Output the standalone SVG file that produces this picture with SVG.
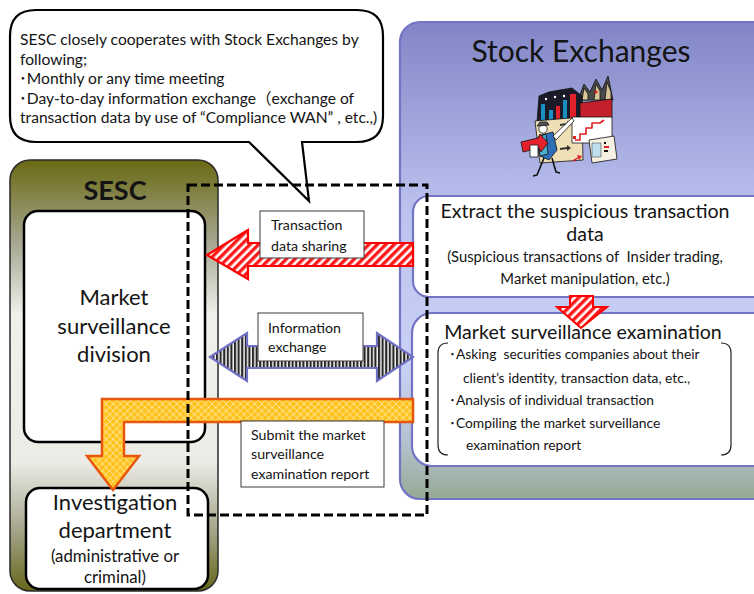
<svg xmlns="http://www.w3.org/2000/svg" width="754" height="594" viewBox="0 0 754 594">
  <defs>
    <linearGradient id="gradSE" x1="0" y1="0" x2="0" y2="1">
      <stop offset="0" stop-color="#8185c6"/>
      <stop offset="0.4" stop-color="#bcc3ef"/>
      <stop offset="0.72" stop-color="#c8d1f5"/>
      <stop offset="0.88" stop-color="#b3c2d0"/>
      <stop offset="1" stop-color="#96aa94"/>
    </linearGradient>
    <linearGradient id="gradSESC" x1="0" y1="0" x2="0" y2="1">
      <stop offset="0" stop-color="#6a6914"/>
      <stop offset="0.2" stop-color="#a9a996"/>
      <stop offset="0.36" stop-color="#f1f1ec"/>
      <stop offset="0.7" stop-color="#ececE6"/>
      <stop offset="0.85" stop-color="#a9a992"/>
      <stop offset="1" stop-color="#66661a"/>
    </linearGradient>
    <pattern id="redStripes" width="6" height="6" patternUnits="userSpaceOnUse" patternTransform="rotate(45)">
      <rect width="6" height="6" fill="#ffffff"/>
      <rect width="3.4" height="6" fill="#ff1a1a"/>
    </pattern>
    <pattern id="darkStripes" width="3.6" height="4" patternUnits="userSpaceOnUse">
      <rect width="3.6" height="4" fill="#f4f4f4"/>
      <rect width="2.1" height="4" fill="#262626"/>
    </pattern>
    <pattern id="orangeLattice" width="5" height="5" patternUnits="userSpaceOnUse" patternTransform="rotate(45)">
      <rect width="5" height="5" fill="#ffc21a"/>
      <path d="M0 0 H5 M0 0 V5" stroke="#fff6d8" stroke-width="1"/>
    </pattern>
  </defs>
  <style>
    text { font-family: Lato, "Noto Sans CJK JP", sans-serif; fill: #141414; }
    .box { fill: #ffffff; stroke: #000000; stroke-width: 2.5; }
    .seBox { fill: #ffffff; stroke: #7474c4; stroke-width: 2.2; }
    .label { fill: #ffffff; stroke: #3a3a3a; stroke-width: 1; }
    .lbl { font-size: 14.2px; }
    .big { font-size: 22px; text-anchor: middle; }
    .mid { font-size: 19.6px; text-anchor: middle; }
    .small { font-size: 13.8px; }
    .note { font-size: 15.6px; }
  </style>

  <!-- Stock Exchanges panel -->
  <g id="stock-exchanges">
    <rect x="400" y="22" width="380" height="477" rx="20" fill="url(#gradSE)" stroke="#7474c4" stroke-width="2.2"/>
    <text x="581" y="62" font-size="30" text-anchor="middle">Stock Exchanges</text>
    <!-- trading floor clip art -->
    <g id="clipart" stroke="#111" stroke-width="0.8" stroke-linejoin="round">
      <polygon points="578,100 584,84 590,92 596,79 602,90 608,76 613,100" fill="#4a4a4a"/>
      <polygon points="584,88 588,94 588,100 582,100" fill="#d9c79a"/>
      <polygon points="596,84 600,91 600,100 594,100" fill="#d9c79a"/>
      <polygon points="607,82 611,92 611,100 605,100" fill="#d9c79a"/>
      <circle cx="596" cy="92" r="1.6" fill="#e02020" stroke="none"/>
      <polygon points="537,122 539,96 549,92 560,90 572,88 582,96 583,122" fill="#1a1a28"/>
      <rect x="541" y="104" width="4" height="18" fill="#1b8fc4" stroke="none"/>
      <rect x="549" y="110" width="4" height="12" fill="#1b8fc4" stroke="none"/>
      <rect x="556" y="106" width="4" height="16" fill="#e0202a" stroke="none"/>
      <rect x="563" y="100" width="4" height="22" fill="#1b8fc4" stroke="none"/>
      <rect x="570" y="94" width="6" height="28" fill="#e0202a" stroke="none"/>
      <circle cx="546" cy="99" r="1.2" fill="#fff" stroke="none"/>
      <circle cx="555" cy="97" r="1.2" fill="#fff" stroke="none"/>
      <circle cx="564" cy="96" r="1.2" fill="#fff" stroke="none"/>
      <polygon points="580,103 612,99 612,118 580,121" fill="#c4202c"/>
      <polygon points="535,121 582,117 583,160 540,163" fill="#eedfb6"/>
      <polygon points="560,124 567,123 567,121 571,124 567,127 567,125 560,126" fill="#333" stroke="none"/>
      <polygon points="560,148 567,147 567,145 571,148 567,151 567,149 560,150" fill="#333" stroke="none"/>
      <polygon points="573,160 578,157 577,155 582,156 579,160 578,158 574,162" fill="#e02020" stroke="none"/>
      <rect x="572" y="117" width="40" height="26" fill="#ffffff"/>
      <polyline points="575,140 580,140 580,134 586,134 586,128 592,128 592,123 600,123 604,120" fill="none" stroke="#e02020" stroke-width="1.6"/>
      <rect x="573" y="136" width="3" height="3" fill="#e02020" stroke="none"/>
      <polygon points="589,140 614,136 617,159 592,163" fill="#f6f1e2"/>
      <rect x="592" y="143" width="9" height="14" fill="#bfe0f0" stroke="#333" stroke-width="0.5"/>
      <rect x="604" y="142" width="2" height="2" fill="#111" stroke="none"/>
      <rect x="604" y="146" width="5" height="2" fill="#e02020" stroke="none"/>
      <rect x="604" y="150" width="4" height="2" fill="#111" stroke="none"/>
      <polygon points="541,135 553,132 557,150 549,160 540,156" fill="#2f6fb8"/>
      <polygon points="538,137 546,134 548,154 540,156" fill="#49b0cf"/>
      <polygon points="521,142 538,138 540,134 548,143 541,152 539,148 523,152" fill="#e4202a"/>
      <polygon points="553,136 572,118 574,121 556,140" fill="#ffffff"/>
      <circle cx="543" cy="129" r="4.2" fill="#ffffff"/>
      <polygon points="537,126 549,125 547,122 540,122" fill="#555"/>
      <polyline points="544,158 537,175 533,176" fill="none" stroke="#111" stroke-width="1.6"/>
      <polyline points="552,158 556,172 560,173" fill="none" stroke="#111" stroke-width="1.6"/>
      <rect x="530" y="145" width="8" height="12" fill="#ffffff"/>
    </g>
  </g>

  <!-- SESC panel -->
  <g id="sesc">
    <rect x="10" y="160" width="208" height="431" rx="20" fill="url(#gradSESC)" stroke="#2a2a2a" stroke-width="1.5"/>
    <text x="115" y="200" font-size="27" font-weight="bold" text-anchor="middle">SESC</text>
  </g>

  <!-- Market surveillance division -->
  <g id="market-surveillance-division">
    <rect class="box" x="24" y="211" width="181" height="231" rx="14"/>
    <text class="big" x="114" y="305">Market</text>
    <text class="big" x="114" y="334">surveillance</text>
    <text class="big" x="114" y="362">division</text>
  </g>

  <!-- Investigation department -->
  <g id="investigation-department">
    <rect class="box" x="26" y="488" width="182" height="101" rx="14"/>
    <text class="big" x="115" y="510">Investigation</text>
    <text class="big" x="115" y="538">department</text>
    <text x="115" y="562" font-size="16.8" text-anchor="middle">(administrative or</text>
    <text x="115" y="583" font-size="16.8" text-anchor="middle">criminal)</text>
  </g>

  <!-- Extract the suspicious transaction data -->
  <g id="extract-data">
    <rect class="seBox" x="413" y="196" width="360" height="101" rx="16"/>
    <text class="mid" x="585" y="218">Extract the suspicious transaction</text>
    <text class="mid" x="585" y="241">data</text>
    <text x="585" y="262" font-size="14.8" text-anchor="middle" xml:space="preserve">(Suspicious transactions of  Insider trading,</text>
    <text x="585" y="284" font-size="14.8" text-anchor="middle">Market manipulation, etc.)</text>
  </g>

  <!-- Market surveillance examination -->
  <g id="market-surveillance-examination">
    <rect class="seBox" x="412" y="313" width="361" height="153" rx="20"/>
    <text class="mid" x="583" y="339">Market surveillance examination</text>
    <path d="M448,343 Q438,343 438,353 V445 Q438,455 448,455 M721,343 Q731,343 731,353 V445 Q731,455 721,455" fill="none" stroke="#222" stroke-width="1.2"/>
    <text class="small" x="449" y="359" xml:space="preserve">･Asking  securities companies about their</text>
    <text class="small" x="463" y="383">client’s identity, transaction data, etc.,</text>
    <text class="small" x="449" y="405">･Analysis of individual transaction</text>
    <text class="small" x="449" y="428">･Compiling the market surveillance</text>
    <text class="small" x="466" y="450">examination report</text>
  </g>

  <!-- Connectors -->
  <g id="connectors">
    <polygon id="arrow-transaction-data" points="207,255 248,230 248,243 413,243 413,266 248,266 248,279" fill="url(#redStripes)" stroke="#ff0000" stroke-width="2.2" stroke-linejoin="miter"/>
    <polygon id="arrow-information-exchange" points="210,357 247,333 247,346 377,346 377,333 413,357 377,381 377,368 247,368 247,381" fill="url(#darkStripes)" stroke="#7070c4" stroke-width="2.2"/>
    <polygon id="arrow-extract-to-exam" points="570,296 593,296 593,307 607,307 581,328 557,307 570,307" fill="url(#redStripes)" stroke="#ff0000" stroke-width="2"/>
    <polygon id="arrow-submit-report" points="413,399 102,399 102,456 87,456 113,490 139,456 124,456 124,422 413,422" fill="url(#orangeLattice)" stroke="#e8560c" stroke-width="2.5"/>

    <g id="label-transaction">
      <rect class="label" x="260" y="211" width="104" height="47"/>
      <text class="lbl" x="271" y="230">Transaction</text>
      <text class="lbl" x="271" y="251">data sharing</text>
    </g>
    <g id="label-information">
      <rect class="label" x="258" y="313" width="105" height="48"/>
      <text class="lbl" x="268" y="333">Information</text>
      <text class="lbl" x="268" y="352">exchange</text>
    </g>
    <g id="label-submit">
      <rect class="label" x="241" y="421" width="143" height="66"/>
      <text class="lbl" x="251" y="440">Submit the market</text>
      <text class="lbl" x="251" y="459">surveillance</text>
      <text class="lbl" x="251" y="479">examination report</text>
    </g>
  </g>

  <!-- Callout describing cooperation -->
  <g id="cooperation-callout">
    <path d="M36,10 H357 Q383,10 383,36 V116 Q383,142 357,142 H302 L309,201 L249,142 H36 Q10,142 10,116 V36 Q10,10 36,10 Z" fill="#ffffff" stroke="#000" stroke-width="2.2" stroke-linejoin="miter"/>
    <text class="note" x="20" y="45">SESC closely cooperates with Stock Exchanges by</text>
    <text class="note" x="20" y="65">following;</text>
    <text class="note" x="19" y="84">･Monthly or any time meeting</text>
    <text class="note" x="19" y="104">･Day-to-day information exchange（exchange of</text>
    <text class="note" x="20" y="123">transaction data by use of “Compliance WAN” , etc.,)</text>
  </g>

  <!-- Dashed boundary of shared activities -->
  <rect id="cooperation-area" x="188" y="185" width="239" height="330" fill="none" stroke="#000" stroke-width="3" stroke-dasharray="9,4"/>
</svg>
